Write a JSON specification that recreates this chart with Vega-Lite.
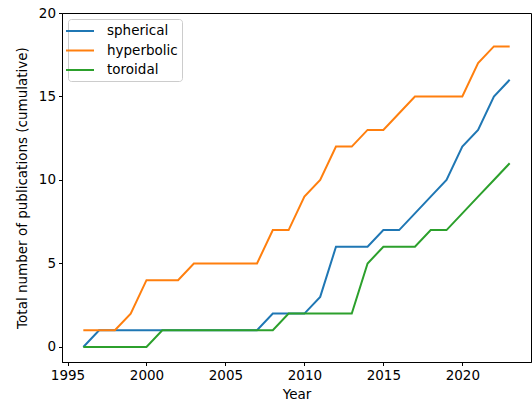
{
  "$schema": "https://vega.github.io/schema/vega-lite/v6.json",
  "width": 469,
  "height": 349,
  "autosize": {"type": "none"},
  "padding": {"left": 62, "top": 13, "right": 1, "bottom": 41},
  "config": {
    "font": "DejaVu Sans",
    "view": {"stroke": "#000", "strokeWidth": 1},
    "axis": {
      "grid": false,
      "domainColor": "#000",
      "tickColor": "#000",
      "tickSize": 3.5,
      "labelFont": "DejaVu Sans",
      "labelFontSize": 13.5,
      "labelColor": "#000",
      "titleFont": "DejaVu Sans",
      "titleFontSize": 13.5,
      "titleFontWeight": "normal",
      "titleColor": "#000",
      "labelPadding": 3
    },
    "legend": {
      "labelFont": "DejaVu Sans",
      "labelFontSize": 13.5,
      "labelColor": "#000"
    }
  },
  "data": {
    "values": [
      {"year": 1996, "s": 0, "h": 1, "t": 0},
      {"year": 1997, "s": 1, "h": 1, "t": 0},
      {"year": 1998, "s": 1, "h": 1, "t": 0},
      {"year": 1999, "s": 1, "h": 2, "t": 0},
      {"year": 2000, "s": 1, "h": 4, "t": 0},
      {"year": 2001, "s": 1, "h": 4, "t": 1},
      {"year": 2002, "s": 1, "h": 4, "t": 1},
      {"year": 2003, "s": 1, "h": 5, "t": 1},
      {"year": 2004, "s": 1, "h": 5, "t": 1},
      {"year": 2005, "s": 1, "h": 5, "t": 1},
      {"year": 2006, "s": 1, "h": 5, "t": 1},
      {"year": 2007, "s": 1, "h": 5, "t": 1},
      {"year": 2008, "s": 2, "h": 7, "t": 1},
      {"year": 2009, "s": 2, "h": 7, "t": 2},
      {"year": 2010, "s": 2, "h": 9, "t": 2},
      {"year": 2011, "s": 3, "h": 10, "t": 2},
      {"year": 2012, "s": 6, "h": 12, "t": 2},
      {"year": 2013, "s": 6, "h": 12, "t": 2},
      {"year": 2014, "s": 6, "h": 13, "t": 5},
      {"year": 2015, "s": 7, "h": 13, "t": 6},
      {"year": 2016, "s": 7, "h": 14, "t": 6},
      {"year": 2017, "s": 8, "h": 15, "t": 6},
      {"year": 2018, "s": 9, "h": 15, "t": 7},
      {"year": 2019, "s": 10, "h": 15, "t": 7},
      {"year": 2020, "s": 12, "h": 15, "t": 8},
      {"year": 2021, "s": 13, "h": 17, "t": 9},
      {"year": 2022, "s": 15, "h": 18, "t": 10},
      {"year": 2023, "s": 16, "h": 18, "t": 11}
    ]
  },
  "transform": [
    {"fold": ["s", "h", "t"], "as": ["key", "count"]},
    {"lookup": "key", "from": {"data": {"values": [
      {"key": "s", "series": "spherical", "ord": 0},
      {"key": "h", "series": "hyperbolic", "ord": 1},
      {"key": "t", "series": "toroidal", "ord": 2}
    ]}, "key": "key", "fields": ["series", "ord"]}}
  ],
  "mark": {"type": "line", "strokeWidth": 2},
  "encoding": {
    "x": {
      "field": "year", "type": "quantitative",
      "scale": {"domain": [1994.65, 2024.35], "nice": false, "zero": false},
      "axis": {"values": [1995, 2000, 2005, 2010, 2015, 2020], "format": "d", "title": "Year", "titlePadding": 5}
    },
    "y": {
      "field": "count", "type": "quantitative",
      "scale": {"domain": [-0.9, 20], "nice": false, "zero": false},
      "axis": {"values": [0, 5, 10, 15, 20], "title": "Total number of publications (cumulative)", "titlePadding": 9}
    },
    "color": {
      "field": "series", "type": "nominal",
      "scale": {"domain": ["spherical", "hyperbolic", "toroidal"], "range": ["#1f77b4", "#ff7f0e", "#2ca02c"]},
      "legend": {
        "title": null,
        "orient": "top-left",
        "offset": 6,
        "symbolType": "M-2,0H2",
        "symbolSize": 196,
        "symbolStrokeWidth": 2,
        "padding": 4,
        "rowPadding": 4.5,
        "labelOffset": 19,
        "strokeColor": "#cccccc",
        "fillColor": "#ffffff",
        "cornerRadius": 3
      }
    },
    "order": {"field": "ord"}
  }
}
